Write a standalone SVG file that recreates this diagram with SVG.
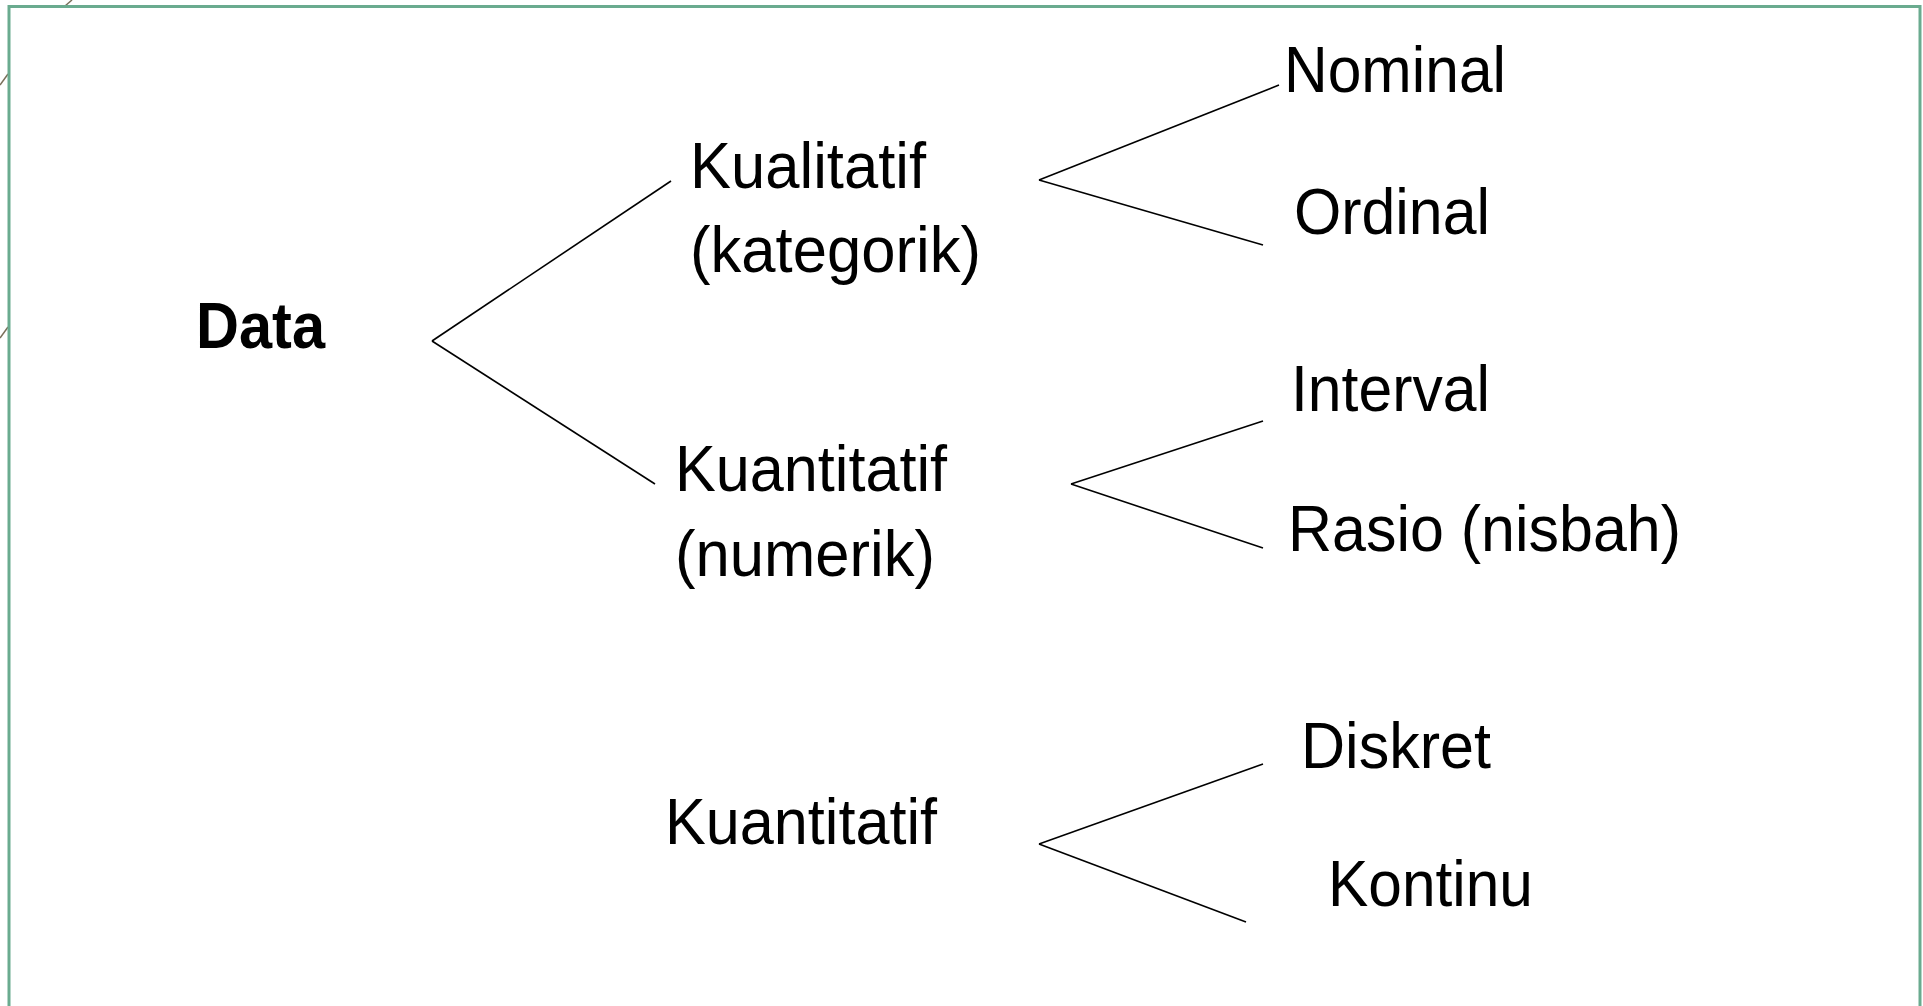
<svg xmlns="http://www.w3.org/2000/svg" width="1923" height="1006" viewBox="0 0 1923 1006">
<style>
.t{font-family:"Liberation Sans",Arial,sans-serif;font-size:65px;fill:#000}
.b{font-weight:bold;font-size:64px}
.c line{stroke:#000;stroke-width:1.6;fill:none}
.deco{stroke:#7a6f5a;stroke-width:1.5}
</style>
<rect x="0" y="0" width="1923" height="1006" fill="#fff"/>
<g id="decor">
<line class="deco" x1="0" y1="85" x2="8" y2="74"/>
<line class="deco" x1="0" y1="338" x2="8" y2="327"/>
<line class="deco" x1="65" y1="6" x2="72" y2="0"/>
</g>
<rect id="frame" x="9" y="6.5" width="1911" height="1015" fill="none" stroke="#6aab8f" stroke-width="3"/>
<g class="c" id="connectors">
<line x1="432" y1="341" x2="671" y2="181"/>
<line x1="432" y1="341" x2="655" y2="484"/>
<line x1="1039" y1="180" x2="1279" y2="85"/>
<line x1="1039" y1="180" x2="1263" y2="245"/>
<line x1="1071" y1="484" x2="1263" y2="421"/>
<line x1="1071" y1="484" x2="1263" y2="548"/>
<line x1="1039" y1="844" x2="1263" y2="764"/>
<line x1="1039" y1="844" x2="1246" y2="922"/>
</g>
<g id="data"><text class="t b" x="196" y="348" textLength="129" lengthAdjust="spacingAndGlyphs">Data</text></g>
<g id="kualitatif"><text class="t" x="690" y="188" textLength="236" lengthAdjust="spacingAndGlyphs">Kualitatif</text><text class="t" x="690" y="272" textLength="291" lengthAdjust="spacingAndGlyphs">(kategorik)</text></g>
<g id="kuantitatif1"><text class="t" x="675" y="491" textLength="272" lengthAdjust="spacingAndGlyphs">Kuantitatif</text><text class="t" x="675" y="576" textLength="260" lengthAdjust="spacingAndGlyphs">(numerik)</text></g>
<g id="kuantitatif2"><text class="t" x="665" y="844" textLength="272" lengthAdjust="spacingAndGlyphs">Kuantitatif</text></g>
<g id="nominal"><text class="t" x="1284" y="92" textLength="222" lengthAdjust="spacingAndGlyphs">Nominal</text></g>
<g id="ordinal"><text class="t" x="1294" y="234" textLength="196" lengthAdjust="spacingAndGlyphs">Ordinal</text></g>
<g id="interval"><text class="t" x="1291" y="411" textLength="199" lengthAdjust="spacingAndGlyphs">Interval</text></g>
<g id="rasio"><text class="t" x="1288" y="551" textLength="393" lengthAdjust="spacingAndGlyphs">Rasio (nisbah)</text></g>
<g id="diskret"><text class="t" x="1301" y="768" textLength="190" lengthAdjust="spacingAndGlyphs">Diskret</text></g>
<g id="kontinu"><text class="t" x="1328" y="906" textLength="205" lengthAdjust="spacingAndGlyphs">Kontinu</text></g>
</svg>
